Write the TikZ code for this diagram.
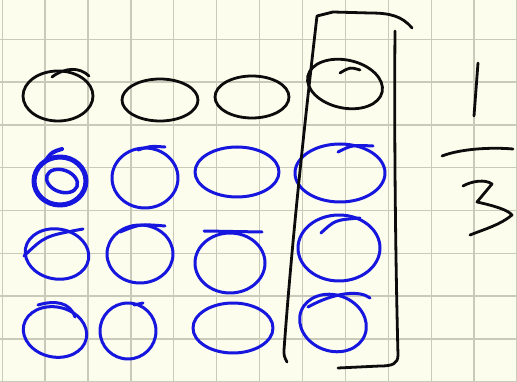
\documentclass[tikz,border=0pt]{standalone}
\definecolor{paper}{RGB}{253,253,237}
\definecolor{gridc}{RGB}{202,202,186}
\definecolor{inkblue}{RGB}{22,22,222}
\definecolor{inkblack}{RGB}{12,12,12}
\begin{document}
\begin{tikzpicture}[x=1pt,y=-1pt,
  blk/.style={draw=inkblack,line width=2.8pt,line cap=round,line join=round},
  blu/.style={draw=inkblue,line width=3pt,line cap=round,line join=round},
  gridline/.style={draw=gridc,line width=1.3pt}]
\fill[paper] (0,0) rectangle (517,382);
\useasboundingbox (0,0) rectangle (517,382);
% grid
\foreach \k in {0,...,12} {
  \draw[gridline] ({2.2+42.9*\k},0) -- ({2.2+42.9*\k},382);
}
\foreach \k in {1,...,9} {
  \draw[gridline] (0,{-3.5+42.8*\k}) -- (517,{-3.5+42.8*\k});
}
% row 1 (black)
\draw[blk] (58,96) ellipse [x radius=35,y radius=25];
\draw[blk] (52,77) .. controls (65,67) and (80,67) .. (89,76);
\draw[blk] (160,100) ellipse [x radius=38,y radius=21];
\draw[blk] (252,97) ellipse [x radius=37,y radius=21];
\draw[blk] (345,84) [rotate around={-12:(345,84)}] ellipse [x radius=38,y radius=24];
\draw[blk] (340,73) .. controls (350,67) .. (360,70);
% row 2 (blue)
\draw[blu,line width=5pt] (60,181) ellipse [x radius=26,y radius=24];
\draw[blu,line width=3.5pt] (62,181) [rotate around={-20:(62,181)}] ellipse [x radius=16,y radius=11];
\draw[blu,line width=4pt] (46,160) .. controls (52,152) .. (62,149);
\draw[blu] (145,178) ellipse [x radius=33,y radius=30];
\draw[blu] (138,150) .. controls (150,146) .. (165,147);
\draw[blu] (237,172) ellipse [x radius=42,y radius=25];
\draw[blu] (340,173) ellipse [x radius=45,y radius=29];
\draw[blu] (338,152) .. controls (352,145) .. (373,146);
% row 3 (blue)
\draw[blu] (57,254) [rotate around={-10:(57,254)}] ellipse [x radius=32,y radius=25];
\draw[blu] (24,256) .. controls (45,236) .. (83,229);
\draw[blu] (140,254) ellipse [x radius=33,y radius=29];
\draw[blu] (120,232) .. controls (140,224) .. (165,226);
\draw[blu] (230,263) ellipse [x radius=35,y radius=30];
\draw[blu] (204,231) -- (262,232);
\draw[blu] (339,248) ellipse [x radius=41,y radius=33];
\draw[blu] (321,233) .. controls (335,220) .. (360,218);
% row 4 (blue)
\draw[blu] (55,332) [rotate around={-12:(55,332)}] ellipse [x radius=32,y radius=25];
\draw[blu] (38,305) .. controls (55,300) and (70,302) .. (75,317);
\draw[blu] (128,331) ellipse [x radius=28,y radius=28];
\draw[blu] (134,305) -- (143,303);
\draw[blu] (233,328) ellipse [x radius=40,y radius=25];
\draw[blu] (333,323) [rotate around={-20:(333,323)}] ellipse [x radius=34,y radius=28];
\draw[blu] (308,307) .. controls (335,292) and (360,290) .. (370,298);
% bracket around last column
\draw[blk] (412,28) .. controls (402,16) and (390,13) .. (370,13) -- (333,12) -- (317,16)
  .. controls (305,120) and (292,240) .. (284,350) .. controls (284,356) .. (287,362);
\draw[blk] (395,31) .. controls (394,150) and (396,280) .. (398,355)
  .. controls (398,364) and (392,366) .. (380,366) -- (338,368);
% fraction 1/3
\draw[blk] (478,63) .. controls (476,90) .. (474,116);
\draw[blk] (442,156) .. controls (460,149) and (490,147) .. (513,149);
\draw[blk] (463,186) .. controls (472,181) and (485,179) .. (492,184)
  -- (477,202) .. controls (495,206) and (508,210) .. (512,215)
  .. controls (500,225) and (485,229) .. (470,235);
\end{tikzpicture}
\end{document}
